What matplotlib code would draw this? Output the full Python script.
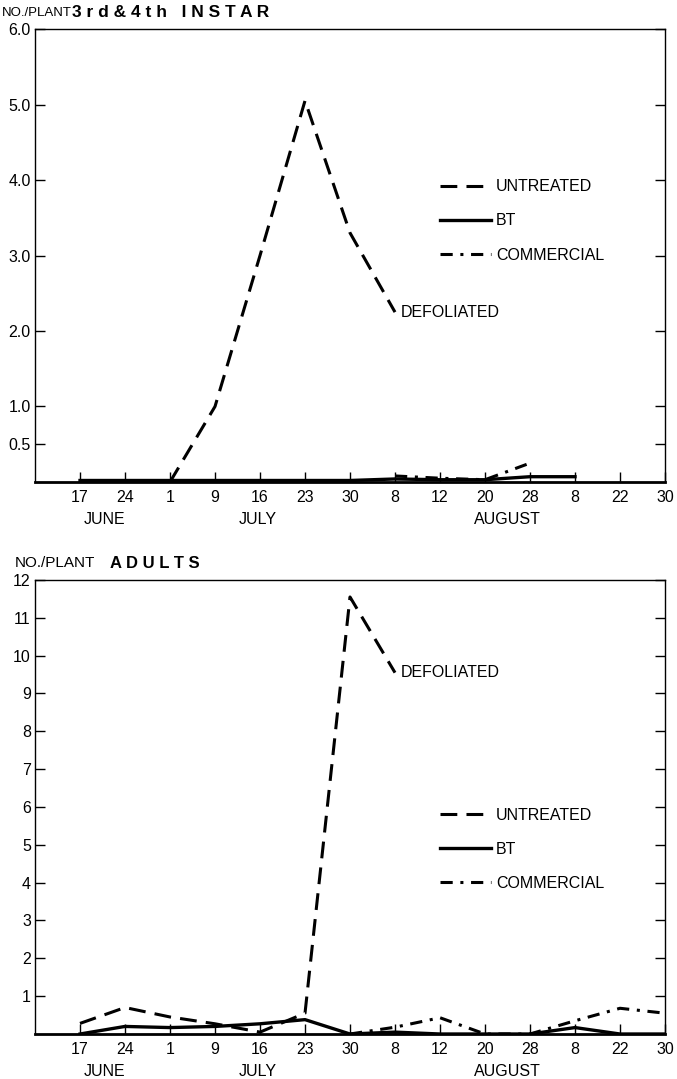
import numpy as np
import matplotlib
matplotlib.use("Agg")
import matplotlib.pyplot as plt

plt.rcParams['font.family'] = ['Liberation Sans', 'DejaVu Sans']

nan = np.nan

# sampling dates (index 1..14 on the x axis)
date_labels = ['17', '24', '1', '9', '16', '23', '30', '8', '12', '20', '28', '8', '22', '30']
month_labels = ['JUNE', 'JULY', 'AUGUST']
month_pos = [1.55, 4.95, 10.5]

# 3rd & 4th instar, no./plant
instar_untreated = [nan, nan, 0.0, 1.0, 3.0, 5.05, 3.3, 2.25, nan, nan, nan, nan, nan, nan]
instar_bt = [0.02, 0.02, 0.02, 0.02, 0.02, 0.02, 0.02, 0.04, 0.03, 0.03, 0.07, 0.07, nan, nan]
instar_commercial = [nan, nan, nan, nan, nan, nan, nan, 0.08, 0.05, 0.03, 0.25, nan, nan, nan]
instar_yticks = [0.5, 1.0, 2.0, 3.0, 4.0, 5.0, 6.0]

# adults, no./plant
adult_untreated = [0.28, 0.7, 0.45, 0.27, 0.05, 0.55, 11.55, 9.55, nan, nan, nan, nan, nan, nan]
adult_bt = [0.0, 0.2, 0.17, 0.2, 0.27, 0.38, 0.0, 0.05, 0.0, 0.0, 0.0, 0.17, 0.0, 0.0]
adult_commercial = [nan, nan, nan, nan, nan, nan, 0.0, 0.18, 0.43, 0.0, 0.0, 0.35, 0.68, 0.55]
adult_yticks = list(range(1, 13))

x = np.arange(1, len(date_labels) + 1)

fig = plt.figure(figsize=(6.77, 10.79), dpi=100)
ax1 = fig.add_axes([0.0517, 0.5533, 0.9306, 0.4198])
ax2 = fig.add_axes([0.0517, 0.0417, 0.9306, 0.4208])


def draw_panel(ax, untreated, bt, commercial, yticks, ymax, ylabels, defol_idx, leg_y):
    lu, = ax.plot(x, untreated, color='black', lw=2.2, dashes=(5.5, 3), label='UNTREATED')
    lb, = ax.plot(x, bt, color='black', lw=2.4, label='BT')
    lc, = ax.plot(x, commercial, color='black', lw=2.2, dashes=(4, 2.5, 1, 2.5), label='COMMERCIAL')
    ax.set_xlim(0, 14)
    ax.set_ylim(0, ymax)
    ax.set_xticks(x)
    ax.set_xticklabels(date_labels)
    ax.set_yticks(yticks)
    ax.set_yticklabels(ylabels)
    ax.tick_params(axis='both', direction='in', length=7, width=1, labelsize=11.5,
                   right=True, top=False, pad=3)
    ax.tick_params(axis='x', pad=6)
    for s in ax.spines.values():
        s.set_linewidth(1)
    ax.spines['bottom'].set_linewidth(2)
    for lab, pos in zip(month_labels, month_pos):
        ax.text(pos, -0.082, lab, transform=ax.get_xaxis_transform(),
                ha='center', va='center', fontsize=11.5)
    ax.annotate('DEFOLIATED', (x[defol_idx], untreated[defol_idx]),
                xytext=(4, 0), textcoords='offset points', ha='left', va='center', fontsize=11.5)
    ax.legend(handles=[lu, lb, lc], loc='upper left', bbox_to_anchor=(0.62, leg_y),
              frameon=False, fontsize=11.5, handlelength=3.2, handletextpad=0.3,
              labelspacing=1.2)


draw_panel(ax1, instar_untreated, instar_bt, instar_commercial, instar_yticks, 6.0,
           ['%.1f' % v for v in instar_yticks], 7, 0.70)
draw_panel(ax2, adult_untreated, adult_bt, adult_commercial, adult_yticks, 12,
           [str(v) for v in adult_yticks], 7, 0.53)

fig.text(0.003, 0.988, 'NO./PLANT', fontsize=9.5, ha='left', va='center')
fig.text(0.106, 0.988, '3 r d & 4 t h   I N S T A R', fontsize=12.5, fontweight='bold',
         ha='left', va='center')
fig.text(0.022, 0.478, 'NO./PLANT', fontsize=11, ha='left', va='center')
fig.text(0.163, 0.478, 'A D U L T S', fontsize=12, fontweight='bold', ha='left', va='center')

fig.savefig('out.png', dpi=100)
